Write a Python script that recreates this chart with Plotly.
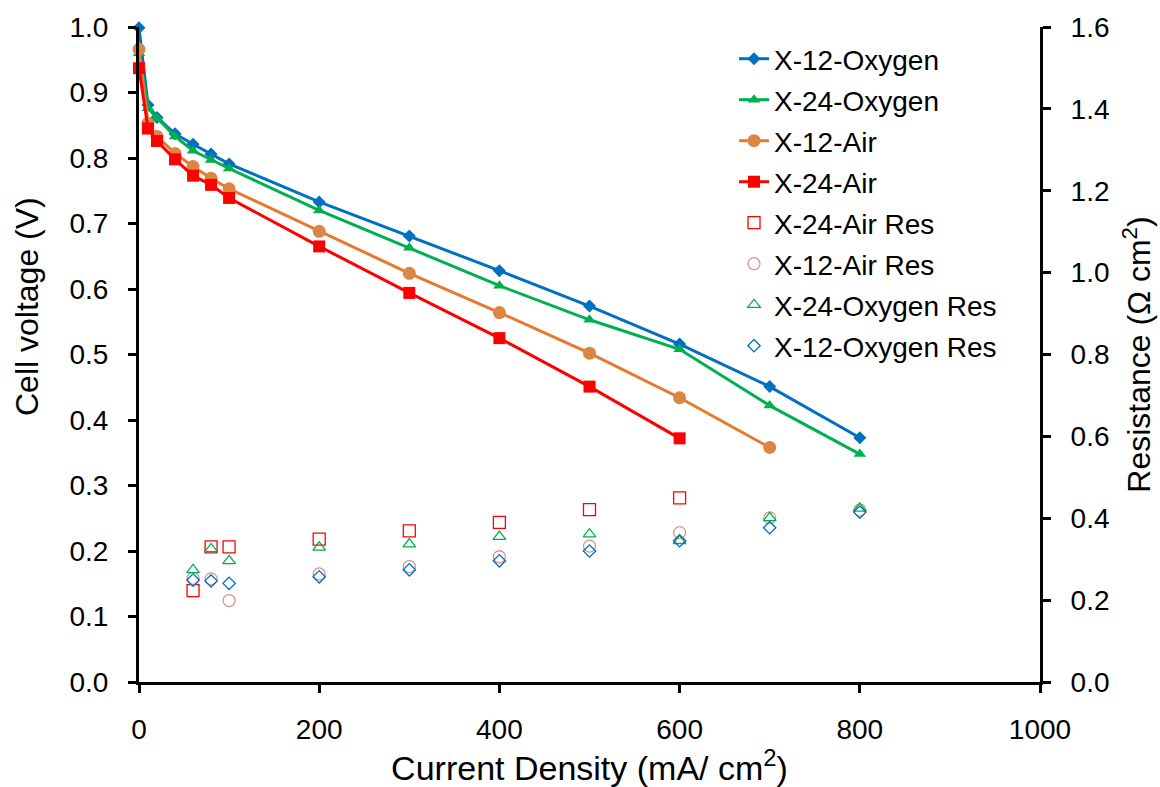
import plotly.graph_objects as go

# Current density (mA/cm2)
x_o12 = [0, 10, 20, 40, 60, 80, 100, 200, 300, 400, 500, 600, 700, 800]
v_o12 = [0.999, 0.881, 0.862, 0.837, 0.821, 0.806, 0.791, 0.733, 0.681, 0.628, 0.574, 0.516, 0.451, 0.373]

x_o24 = [0, 10, 20, 40, 60, 80, 100, 200, 300, 400, 500, 600, 700, 800]
v_o24 = [0.960, 0.876, 0.861, 0.833, 0.811, 0.797, 0.784, 0.720, 0.663, 0.605, 0.553, 0.508, 0.422, 0.348]

x_a12 = [0, 10, 20, 40, 60, 80, 100, 200, 300, 400, 500, 600, 700]
v_a12 = [0.966, 0.853, 0.833, 0.807, 0.787, 0.769, 0.753, 0.688, 0.624, 0.564, 0.502, 0.434, 0.358]

x_a24 = [0, 10, 20, 40, 60, 80, 100, 200, 300, 400, 500, 600]
v_a24 = [0.937, 0.845, 0.826, 0.798, 0.773, 0.759, 0.739, 0.665, 0.594, 0.525, 0.451, 0.372]

# Resistance (Ohm cm2)
xr_a24 = [60, 80, 100, 200, 300, 400, 500, 600]
r_a24 = [0.223, 0.330, 0.330, 0.349, 0.369, 0.390, 0.421, 0.450]

xr_a12 = [60, 80, 100, 200, 300, 400, 500, 600, 700, 800]
r_a12 = [0.253, 0.252, 0.199, 0.264, 0.282, 0.306, 0.332, 0.365, 0.401, 0.420]

xr_o24 = [60, 80, 100, 200, 300, 400, 500, 600, 700, 800]
r_o24 = [0.274, 0.325, 0.296, 0.329, 0.337, 0.355, 0.361, 0.345, 0.401, 0.424]

xr_o12 = [60, 80, 100, 200, 300, 400, 500, 600, 700, 800]
r_o12 = [0.249, 0.247, 0.241, 0.257, 0.274, 0.296, 0.320, 0.345, 0.377, 0.415]

BLUE = "#0070C0"
GREEN = "#00B050"
ORANGE = "#E8792C"
ORANGE_M = "#DC8644"
RED = "#FF0000"
PINK = "#D99594"

fig = go.Figure()

fig.add_trace(go.Scatter(x=x_o12, y=v_o12, name="X-12-Oxygen", mode="lines+markers", legendgroup="g1",
                         line=dict(color=BLUE, width=3),
                         marker=dict(symbol="diamond", size=10, color=BLUE),
                         cliponaxis=False))
fig.add_trace(go.Scatter(x=x_o24, y=v_o24, name="X-24-Oxygen", mode="lines+markers", legendgroup="g2",
                         line=dict(color=GREEN, width=3),
                         marker=dict(symbol="triangle-up", size=11, color=GREEN),
                         cliponaxis=False))
fig.add_trace(go.Scatter(x=x_a12, y=v_a12, name="X-12-Air", mode="lines+markers", legendgroup="g3",
                         line=dict(color=ORANGE, width=3),
                         marker=dict(symbol="circle", size=13, color=ORANGE_M),
                         cliponaxis=False))
fig.add_trace(go.Scatter(x=x_a24, y=v_a24, name="X-24-Air", mode="lines+markers", legendgroup="g4",
                         line=dict(color=RED, width=3),
                         marker=dict(symbol="square", size=12, color=RED),
                         cliponaxis=False))

fig.add_trace(go.Scatter(x=xr_a24, y=r_a24, name="X-24-Air Res", mode="markers", yaxis="y2", legendgroup="g5",
                         marker=dict(symbol="square-open", size=12, color=RED, line=dict(width=1.3)),
                         cliponaxis=False))
fig.add_trace(go.Scatter(x=xr_a12, y=r_a12, name="X-12-Air Res", mode="markers", yaxis="y2", legendgroup="g6",
                         marker=dict(symbol="circle-open", size=12, color=PINK, line=dict(width=1.3)),
                         cliponaxis=False))
fig.add_trace(go.Scatter(x=xr_o24, y=r_o24, name="X-24-Oxygen Res", mode="markers", yaxis="y2", legendgroup="g7",
                         marker=dict(symbol="triangle-up-open", size=11, color=GREEN, line=dict(width=1.3)),
                         cliponaxis=False))
fig.add_trace(go.Scatter(x=xr_o12, y=r_o12, name="X-12-Oxygen Res", mode="markers", yaxis="y2", legendgroup="g8",
                         marker=dict(symbol="diamond-open", size=9.5, color=BLUE, line=dict(width=1.3)),
                         cliponaxis=False))

FONT = "Liberation Sans, Arial, sans-serif"

fig.update_layout(
    width=1160, height=787,
    margin=dict(l=139, r=120, t=27, b=105, pad=0),
    paper_bgcolor="white", plot_bgcolor="white",
    font=dict(family=FONT, size=28, color="black"),
    showlegend=True,
    legend=dict(x=0.6604, y=0.9893, xanchor="left", yanchor="top",
                bgcolor="rgba(0,0,0,0)", font=dict(size=28), tracegroupgap=1.6,
                traceorder="grouped", itemwidth=30),
    xaxis=dict(range=[0, 1000], dtick=200, tick0=0, showgrid=False, zeroline=False,
               showline=True, linecolor="black", linewidth=3,
               ticks="outside", ticklen=8, tickwidth=2.5, tickcolor="black",
               ticklabelstandoff=12,
               tickfont=dict(size=28),
               title=dict(text="Current Density (mA/ cm<sup>2</sup>)", font=dict(size=34), standoff=12),
               automargin=False),
    yaxis=dict(range=[0, 1.0], dtick=0.1, tick0=0, tickformat=".1f", showgrid=False, zeroline=False,
               showline=True, linecolor="black", linewidth=3,
               ticks="outside", ticklen=8, tickwidth=2.5, tickcolor="black",
               ticklabelstandoff=14,
               tickfont=dict(size=28),
               automargin=False),
    yaxis2=dict(range=[0, 1.6], dtick=0.2, tick0=0, tickformat=".1f", overlaying="y", side="right",
                showgrid=False, zeroline=False,
                showline=True, linecolor="black", linewidth=3,
                ticks="outside", ticklen=8, tickwidth=2.5, tickcolor="black",
                ticklabelstandoff=14,
                tickfont=dict(size=28),
                title=dict(text="Resistance (Ω cm<sup>2</sup>)", font=dict(size=32), standoff=20),
                automargin=False),
    annotations=[dict(text="Cell voltage (V)", textangle=-90, xref="paper", yref="paper",
                      x=-0.1243, y=0.5725, xanchor="center", yanchor="middle",
                      showarrow=False, font=dict(size=32, family=FONT, color="black"))],
)

fig.write_html("out.html")
